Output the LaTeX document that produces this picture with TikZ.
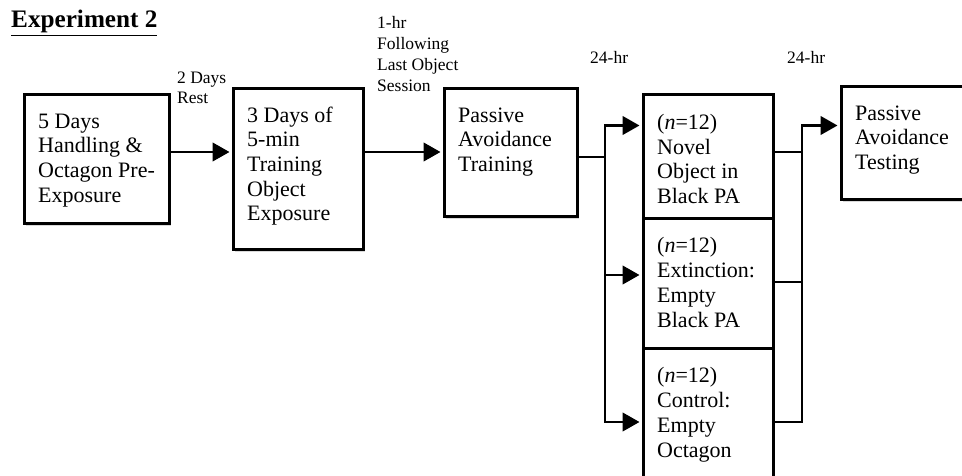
\documentclass[tikz,border=0pt]{standalone}
\usepackage{fontspec}
\setmainfont{Liberation Serif}
\usetikzlibrary{arrows.meta,shadows}
\begin{document}
\begin{tikzpicture}[x=1pt,y=-1pt,
  box/.style={draw,line width=2.8pt,fill=white,inner sep=0pt,anchor=north west,
    drop shadow={shadow xshift=2pt,shadow yshift=-2.5pt,opacity=0.3,fill=gray}},
  btext/.style={anchor=north west,inner sep=0pt,align=left,font=\fontsize{22}{24.7}\selectfont},
  lbl/.style={anchor=north west,inner sep=0pt,align=left,font=\fontsize{17.5}{20.5}\selectfont},
  conn/.style={line width=2.8pt,line join=miter},
  arr/.style={conn,-{Triangle[length=17pt,width=18.5pt]},shorten >=2.5pt}]
\useasboundingbox (0,0) rectangle (962,476);

% title
\node[anchor=base west,inner sep=0pt,font=\bfseries\fontsize{25.2}{28}\selectfont] (title) at (11,28) {\underline{Experiment 2}};

% boxes
\node[box,minimum width=145pt,minimum height=129pt] (b1) at (23,93) {};
\node[box,minimum width=130pt,minimum height=161pt] (b2) at (232,87) {};
\node[box,minimum width=133pt,minimum height=128pt] (b3) at (443,87) {};
\node[box,minimum width=130pt,minimum height=124pt] (b4a) at (642,93) {};
\node[box,minimum width=130pt,minimum height=130pt] (b4b) at (642,217) {};
\node[box,minimum width=130pt,minimum height=150pt] (b4c) at (642,347) {};
\node[box,minimum width=150pt,minimum height=113pt] (b5) at (840,85) {};

% box texts
\node[btext] (t1) at ([shift={(15,17.7)}]b1.north west) {\strut 5 Days\\Handling \&\\Octagon Pre-\\Exposure};
\node[btext] (t2) at ([shift={(15,17.7)}]b2.north west) {\strut 3 Days of\\5-min\\Training\\Object\\Exposure};
\node[btext] (t3) at ([shift={(15,17.7)}]b3.north west) {\strut Passive\\Avoidance\\Training};
\node[btext] (t4a) at ([shift={(15,19)}]b4a.north west) {\strut (\textit{n}=12)\\Novel\\Object in\\Black PA};
\node[btext] (t4b) at ([shift={(15,18.5)}]b4b.north west) {\strut (\textit{n}=12)\\Extinction:\\Empty\\Black PA};
\node[btext] (t4c) at ([shift={(15,18.5)}]b4c.north west) {\strut (\textit{n}=12)\\Control:\\Empty\\Octagon};
\node[btext] (t5) at ([shift={(15,17.7)}]b5.north west) {\strut Passive\\Avoidance\\Testing};

% labels
\node[lbl] (l1) at (177,68.6) {\strut 2 Days\\Rest};
\node[lbl,font=\fontsize{17.5}{21}\selectfont] (l2) at (377,13.3) {\strut 1-hr\\Following\\Last Object\\Session};
\node[lbl] (l3) at (590,48.6) {\strut 24-hr};
\node[lbl] (l4) at (787,48.6) {\strut 24-hr};

% junction coordinates
\coordinate (a1) at (0,152);
\coordinate (j1) at (605,157);
\coordinate (s1) at (605,125.5);
\coordinate (s2) at (605,275);
\coordinate (s3) at (605,422);
\coordinate (m1) at (802,125.5);
\coordinate (n1) at (802,152);
\coordinate (n2) at (802,282);
\coordinate (n3) at (802,422);

% connectors
\draw[arr] ([xshift=-2pt]b1.east|-a1) -- (b2.west|-a1);
\draw[arr] (b2.east|-a1) -- (b3.west|-a1);
\draw[conn] ([xshift=-3pt]b3.east|-j1) -- (j1);
\draw[arr] (j1) -- (s1) -- (b4a.west|-s1);
\draw[arr] (j1) -- (s3) -- (b4c.west|-s3);
\draw[arr] (s2) -- (b4b.west|-s2);
\draw[conn] ([xshift=-3pt]b4a.east|-n1) -- (n1);
\draw[conn] ([xshift=-3pt]b4b.east|-n2) -- (n2);
\draw[arr] ([xshift=-3pt]b4c.east|-n3) -- (n3) -- (m1) -- (b5.west|-m1);
\end{tikzpicture}
\end{document}
